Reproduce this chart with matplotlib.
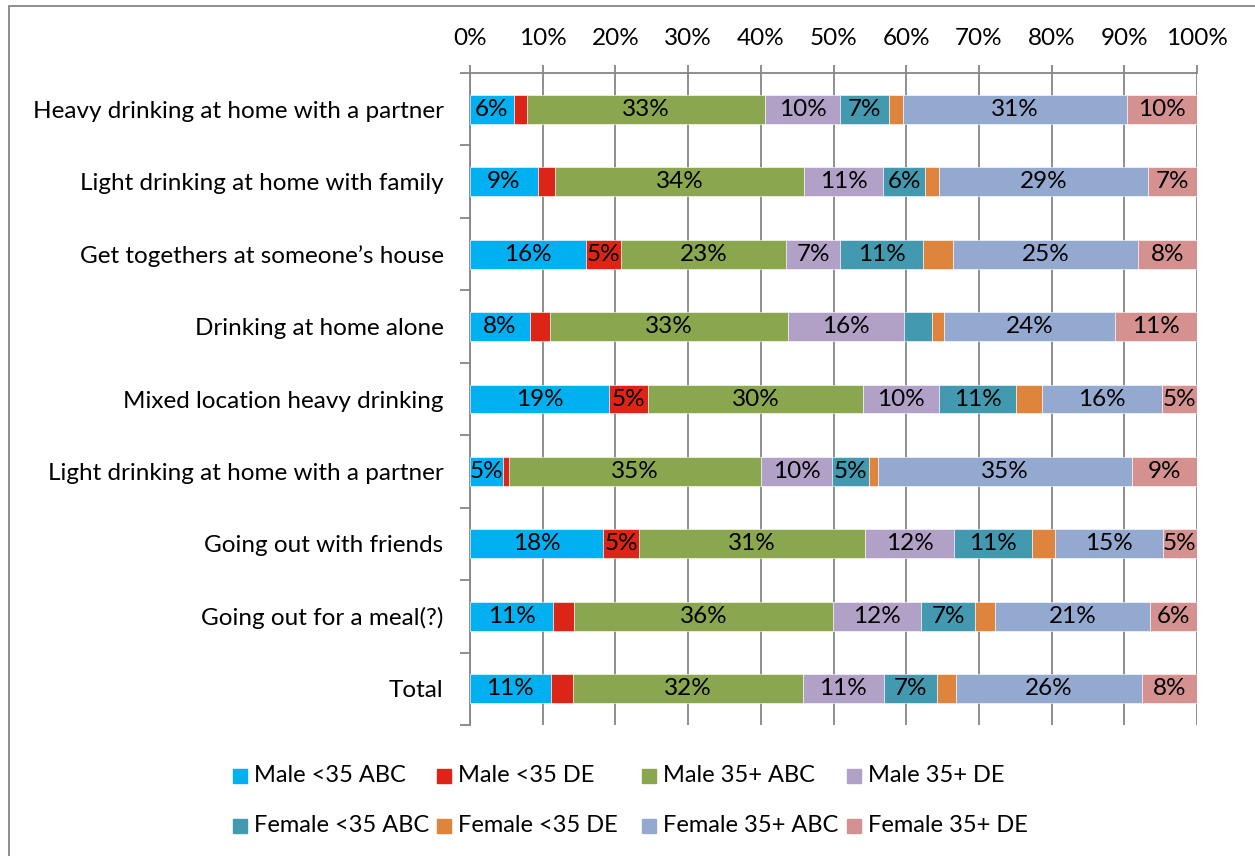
import matplotlib
matplotlib.use("Agg")
import matplotlib.pyplot as plt
from matplotlib.patches import Rectangle
import numpy as np

plt.rcParams['font.family'] = ['Lato', 'DejaVu Sans']

categories = ["Heavy drinking at home with a partner",
              "Light drinking at home with family",
              "Get togethers at someone\u2019s house",
              "Drinking at home alone",
              "Mixed location heavy drinking",
              "Light drinking at home with a partner",
              "Going out with friends",
              "Going out for a meal(?)",
              "Total"]

series = ["Male <35 ABC", "Male <35 DE", "Male 35+ ABC", "Male 35+ DE",
          "Female <35 ABC", "Female <35 DE", "Female 35+ ABC", "Female 35+ DE"]
colors = ["#00B0F0", "#DC2417", "#8AA64E", "#B2A1C7",
          "#4399B0", "#DE843D", "#94A9D0", "#D59190"]

# percent share per category, one list per series
male_u35_abc   = [6.0, 9.3, 15.9, 8.2, 19.1, 4.6, 18.3, 11.4, 11.1]
male_u35_de    = [1.8, 2.4, 4.9, 2.8, 5.4, 0.8, 5.0, 2.9, 3.1]
male_35_abc    = [32.8, 34.3, 22.7, 32.7, 29.6, 34.6, 31.0, 35.6, 31.6]
male_35_de     = [10.3, 10.8, 7.4, 16.0, 10.4, 9.8, 12.3, 12.2, 11.1]
female_u35_abc = [6.7, 5.8, 11.4, 3.9, 10.6, 5.1, 10.7, 7.4, 7.4]
female_u35_de  = [2.0, 1.9, 4.2, 1.6, 3.6, 1.2, 3.2, 2.7, 2.5]
female_35_abc  = [30.8, 28.8, 25.4, 23.5, 16.5, 34.9, 14.8, 21.3, 25.6]
female_35_de   = [9.6, 6.8, 8.1, 11.3, 4.8, 9.0, 4.7, 6.5, 7.7]

data = [male_u35_abc, male_u35_de, male_35_abc, male_35_de,
        female_u35_abc, female_u35_de, female_35_abc, female_35_de]

W, H = 1255, 856
fs = 17.5
fig = plt.figure(figsize=(W / 100, H / 100), dpi=100)
ax = fig.add_axes([470 / W, 1 - 725 / H, (1197 - 470) / W, (725 - 73) / H])

grey = "#868686"
y = np.arange(len(categories))
left = np.zeros(len(categories))
for vals, name, c in zip(data, series, colors):
    vals = np.array(vals)
    bars = ax.barh(y, vals, left=left, height=0.40, color=c, label=name,
                   edgecolor="white", linewidth=0.4, zorder=3)
    labels = [f"{v:.0f}%" if round(v) >= 5 else "" for v in vals]
    ax.bar_label(bars, labels=labels, label_type="center", fontsize=fs,
                 color="black", zorder=4)
    left += vals

ax.set_xlim(0, 100)
ax.set_ylim(len(categories) - 0.5, -0.5)
ax.xaxis.tick_top()
ax.set_xticks(np.arange(0, 101, 10))
ax.set_xticklabels([f"{t}%" for t in range(0, 101, 10)])
ax.tick_params(axis="x", direction="out", length=6, width=1.3, color=grey,
               labelsize=fs, pad=11)
ax.grid(axis="x", color=grey, linewidth=1.3, zorder=0)
ax.set_axisbelow(True)

ax.set_yticks(y)
ax.set_yticklabels(categories)
ax.set_yticks(np.arange(-0.5, len(categories)), minor=True)
ax.tick_params(axis="y", which="major", length=0, labelsize=fs, pad=19)
ax.tick_params(axis="y", which="minor", direction="out", length=7, width=1.3,
               color=grey)

for s in ["right", "bottom"]:
    ax.spines[s].set_visible(False)
for s in ["top", "left"]:
    ax.spines[s].set_color(grey)
    ax.spines[s].set_linewidth(1.3)

# legend, two rows of four
col_x = [233, 437, 642, 847]
row_y = [776, 826]
for i, (name, c) in enumerate(zip(series, colors)):
    r, k = divmod(i, 4)
    cx, cy = col_x[k], row_y[r]
    fig.patches.append(Rectangle((cx / W, 1 - (cy + 7) / H), 14 / W, 14 / H,
                                 transform=fig.transFigure, color=c))
    fig.text((cx + 21) / W, 1 - cy / H, name, fontsize=17, va="center",
             ha="left")

# chart area border
fig.patches.append(Rectangle((9 / W, -0.1), 2, 1 - 6 / H + 0.1,
                             transform=fig.transFigure, fill=False,
                             edgecolor=grey, linewidth=1.3))

fig.savefig("out.png", dpi=100)
